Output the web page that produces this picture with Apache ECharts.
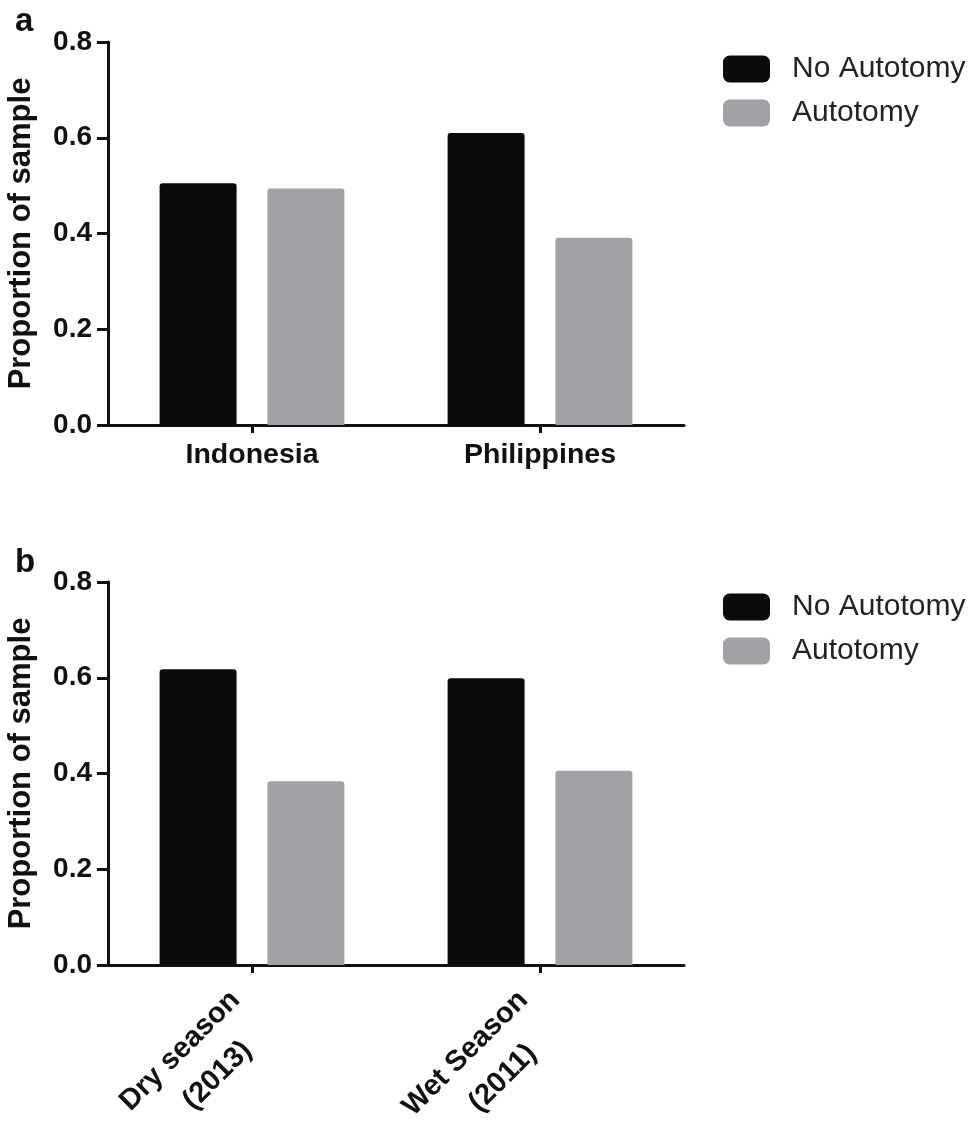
<!DOCTYPE html>
<html>
<head>
<meta charset="utf-8">
<script src="https://cdn.jsdelivr.net/npm/echarts@6/dist/echarts.min.js"></script>
<style>
html,body{margin:0;padding:0;background:#fff;}
#chart{width:970px;height:1122px;}
</style>
</head>
<body>
<div id="chart"></div>
<script>
// ---- data ----
const seriesNames = ['No Autotomy', 'Autotomy'];
const categoriesA = ['Indonesia', 'Philippines'];
const noAutotomyA = [0.505, 0.61];
const autotomyA = [0.494, 0.391];
const categoriesB = ['Dry season\n(2013)', 'Wet Season\n(2011)'];
const noAutotomyB = [0.618, 0.599];
const autotomyB = [0.384, 0.406];
const yTicks = [0, 0.2, 0.4, 0.6, 0.8];
const panelLetters = ['a', 'b'];

const FONT = "'Liberation Sans', Arial, Helvetica, sans-serif";
const AXC = '#111';
const BLACK = '#0a0b0d';
const GRAY = '#a1a2a6';

function yAxisCfg(gridIndex) {
  return {
    type: 'value', gridIndex: gridIndex,
    min: yTicks[0], max: yTicks[yTicks.length - 1], interval: yTicks[1] - yTicks[0],
    name: 'Proportion of sample', nameLocation: 'middle', nameRotate: 90, nameGap: 71,
    nameMoveOverlap: false,
    nameTextStyle: {fontFamily: FONT, fontWeight: 'bold', fontSize: 31, color: AXC},
    axisLine: {show: true, lineStyle: {color: AXC, width: 3}},
    axisTick: {show: true, length: 11, lineStyle: {color: AXC, width: 3}},
    axisLabel: {margin: 16, fontFamily: FONT, fontWeight: 'bold', fontSize: 28, color: AXC,
      formatter: v => v.toFixed(1)},
    splitLine: {show: false}
  };
}
function xAxisCfg(gridIndex, cats, rotated) {
  const label = rotated ? {
    rotate: 45, margin: 45, interval: 0, padding: [0, 1.5, 0, 0],
    formatter: v => v.split('\n').map((s, i) => '{' + (i ? 'd' : 'c') + '|' + s + '}').join('\n'),
    rich: {
      c: {fontFamily: FONT, fontWeight: 'bold', fontSize: 29, color: AXC, align: 'center', lineHeight: 44},
      d: {fontFamily: FONT, fontWeight: 'bold', fontSize: 29, color: AXC, align: 'center', lineHeight: 44, padding: [0, 0, 0, 18]}
    }
  } : {
    margin: 16, interval: 0, fontFamily: FONT, fontWeight: 'bold', fontSize: 28.5, color: AXC
  };
  return {
    type: 'category', gridIndex: gridIndex, data: cats,
    axisLine: {show: true, lineStyle: {color: AXC, width: 3}},
    axisTick: {show: true, alignWithLabel: true, length: 8, lineStyle: {color: AXC, width: 3}},
    axisLabel: label
  };
}
function barSeries(name, idx, data, color) {
  return {
    type: 'bar', name: name, xAxisIndex: idx, yAxisIndex: idx, data: data,
    barWidth: 77, barGap: '40%',
    itemStyle: {color: color, borderRadius: [3, 3, 0, 0]},
    emphasis: {disabled: true}
  };
}
function legendCfg(top) {
  return {
    left: 718, top: top, orient: 'vertical', itemWidth: 47, itemHeight: 27, itemGap: 14,
    icon: 'roundRect', data: seriesNames, selectedMode: false,
    textStyle: {fontFamily: FONT, fontSize: 30, color: '#222', padding: [0, 0, 0, 17]}
  };
}

const option = {
  animation: false,
  backgroundColor: '#fff',
  title: [
    {text: panelLetters[0], left: 10, top: 0, textStyle: {fontFamily: FONT, fontWeight: 'bold', fontSize: 33, color: AXC}},
    {text: panelLetters[1], left: 10, top: 541, textStyle: {fontFamily: FONT, fontWeight: 'bold', fontSize: 33, color: AXC}}
  ],
  legend: [legendCfg(49), legendCfg(587)],
  grid: [
    {left: 108, top: 42, width: 576, height: 383, containLabel: false, outerBoundsMode: 'none'},
    {left: 108, top: 582, width: 576, height: 383, containLabel: false, outerBoundsMode: 'none'}
  ],
  xAxis: [xAxisCfg(0, categoriesA, false), xAxisCfg(1, categoriesB, true)],
  yAxis: [yAxisCfg(0), yAxisCfg(1)],
  series: [
    barSeries(seriesNames[0], 0, noAutotomyA, BLACK),
    barSeries(seriesNames[1], 0, autotomyA, GRAY),
    barSeries(seriesNames[0], 1, noAutotomyB, BLACK),
    barSeries(seriesNames[1], 1, autotomyB, GRAY)
  ]
};
const chart = echarts.init(document.getElementById('chart'), null, {renderer: 'canvas'});
chart.setOption(option);
</script>
</body>
</html>
